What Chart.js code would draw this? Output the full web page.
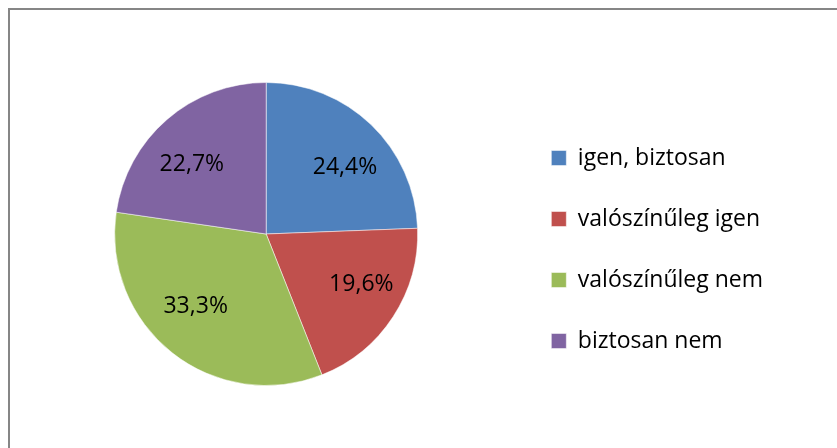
<!DOCTYPE html>
<html>
<head>
<meta charset="utf-8">
<script src="https://cdn.jsdelivr.net/npm/chart.js@4/dist/chart.umd.min.js"></script>
<style>
    html, body { margin: 0; padding: 0; background: #ffffff; overflow: hidden; }
    #wrap { position: relative; width: 837px; height: 448px; }
    #frame {
        position: absolute; left: 8px; top: 8px; width: 900px; height: 500px;
        border-top: 2px solid #868686; border-left: 2px solid #868686;
    }
    #pieChart { position: absolute; left: 0; top: 0; }
</style>
</head>
<body>
<div id="wrap">
    <div id="frame"></div>
    <canvas id="pieChart" width="837" height="448"></canvas>
</div>
<script>
// -------------------- DATA --------------------
const categories = ["igen, biztosan", "valószínűleg igen", "valószínűleg nem", "biztosan nem"];
const shares = [24.4, 19.6, 33.3, 22.7];
const sliceColors = ["#4f81bd", "#c0504d", "#9bbb59", "#8064a2"];

const fontFamily = "'Open Sans', 'Noto Sans', sans-serif";

// -------------------- SLICE LABELS --------------------
// labels sit on a flattened ring inside each slice, like the original
const sliceLabelPlugin = {
    id: "sliceLabelPlugin",

    afterDatasetsDraw(chart) {
        const { ctx } = chart;
        const meta = chart.getDatasetMeta(0);

        ctx.save();
        ctx.font = "23px " + fontFamily;
        ctx.fillStyle = "#000000";
        ctx.textAlign = "center";
        ctx.textBaseline = "middle";

        meta.data.forEach((arc, i) => {
            const p = arc.getProps(["x", "y", "startAngle", "endAngle", "outerRadius"], true);
            const mid = (p.startAngle + p.endAngle) / 2;
            const text = shares[i].toFixed(1).replace(".", ",") + "%";
            ctx.fillText(
                text,
                p.x + Math.cos(mid) * p.outerRadius * 0.75,
                p.y + Math.sin(mid) * p.outerRadius * 0.61
            );
        });

        ctx.restore();
    }
};

// -------------------- BUILD CHART --------------------
new Chart(document.getElementById("pieChart"), {
    type: "pie",
    plugins: [sliceLabelPlugin],
    data: {
        labels: categories,
        datasets: [{
            data: shares,
            backgroundColor: sliceColors,
            borderColor: "rgba(255,255,255,0.5)",
            borderWidth: 1,
            radius: 151.5
        }]
    },
    options: {
        responsive: false,
        animation: false,
        layout: {
            padding: { left: 19, right: 64, top: 40, bottom: 20 }
        },
        plugins: {
            tooltip: { enabled: false },
            legend: {
                position: "right",
                title: {
                    display: true,
                    text: " ",
                    font: { size: 22, family: fontFamily },
                    padding: { top: 4.6, bottom: 0 }
                },
                labels: {
                    boxWidth: 15,
                    boxHeight: 15,
                    padding: 38,
                    color: "#000000",
                    font: { size: 23, family: fontFamily }
                }
            }
        }
    }
});
</script>
</body>
</html>
